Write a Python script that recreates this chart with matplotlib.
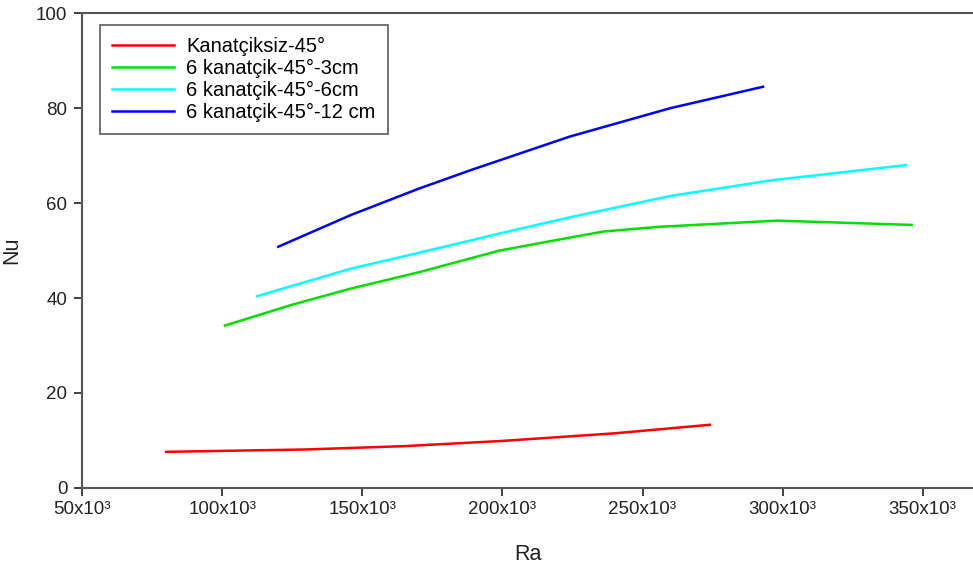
import matplotlib.pyplot as plt
import matplotlib.ticker as mticker

plt.rcParams['font.family'] = ['Liberation Sans', 'DejaVu Sans']

# Ra values in thousands, Nu values
ra_red = [80, 100, 130, 165, 200, 240, 274]
nu_red = [7.6, 7.8, 8.1, 8.8, 9.9, 11.5, 13.3]

ra_green = [101, 125, 146, 170, 199, 221, 236, 256, 298, 346]
nu_green = [34.2, 38.6, 42.0, 45.4, 50.0, 52.4, 54.0, 55.0, 56.3, 55.4]

ra_cyan = [112.5, 146, 170, 199, 224, 260, 296, 344]
nu_cyan = [40.4, 46.2, 49.5, 53.6, 57.0, 61.5, 64.8, 68.0]

ra_blue = [120, 146, 170, 189, 224, 260, 293]
nu_blue = [50.8, 57.5, 63.0, 67.0, 74.0, 80.0, 84.5]

labels = ["Kanatçiksiz-45°", "6 kanatçik-45°-3cm",
          "6 kanatçik-45°-6cm", "6 kanatçik-45°-12 cm"]
x_ticks = [50, 100, 150, 200, 250, 300, 350]
y_ticks = [0, 20, 40, 60, 80, 100]

fig = plt.figure(figsize=(9.73, 5.72), dpi=100)
ax = fig.add_axes([0.0843, 0.147, 0.9157, 0.83])

ax.plot(ra_red, nu_red, color='#ff0000', lw=1.8, label=labels[0])
ax.plot(ra_green, nu_green, color='#00e000', lw=1.8, label=labels[1])
ax.plot(ra_cyan, nu_cyan, color='#00ffff', lw=1.8, label=labels[2])
ax.plot(ra_blue, nu_blue, color='#0000ff', lw=1.8, label=labels[3])

ax.set_xlim(50, 367.9)
ax.set_ylim(0, 100)
ax.set_xticks(x_ticks)
ax.set_yticks(y_ticks)
ax.xaxis.set_major_formatter(mticker.FuncFormatter(lambda v, p: f"{int(v)}x10³"))

ax.tick_params(direction='out', length=5.5, width=1.3, color='#333333',
               labelsize=13.5, labelcolor='#222222')
ax.tick_params(axis='x', pad=4)
ax.tick_params(axis='y', pad=5)
for side in ['left', 'bottom', 'top']:
    ax.spines[side].set_color('#555555')
    ax.spines[side].set_linewidth(1.5)
ax.spines['right'].set_visible(False)

ax.set_xlabel("Ra", fontsize=15.5, color='#222222', labelpad=19)
ax.set_ylabel("Nu", fontsize=15.5, color='#222222', labelpad=10)

leg = ax.legend(loc='upper left', bbox_to_anchor=(0.02, 0.975), fontsize=14.5,
                frameon=True, fancybox=False, edgecolor='#444444',
                handlelength=3.1, handletextpad=0.6, borderpad=0.6,
                labelspacing=0.14, borderaxespad=0)
leg.get_frame().set_linewidth(1.3)

fig.savefig("out.png", dpi=100)
